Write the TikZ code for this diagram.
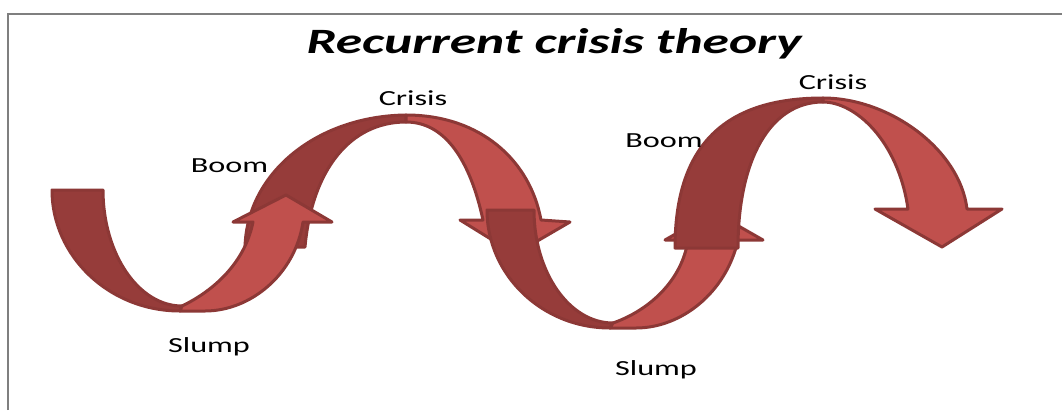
\documentclass[tikz,border=0pt]{standalone}
\usepackage{fontspec}
\setmainfont{Carlito}
\usepackage{graphicx}
\definecolor{bandlight}{HTML}{C0504D}
\definecolor{banddark}{HTML}{963C3A}
\definecolor{bandedge}{HTML}{8C3836}
\definecolor{framegray}{HTML}{7F7F7F}
\newcommand{\widetext}[1]{\scalebox{1.5}[1]{#1}}
\begin{document}
\begin{tikzpicture}[x=1pt,y=-1pt,
  darkband/.style={fill=banddark, draw=bandedge, line width=3pt, line join=round},
  lightband/.style={fill=bandlight, draw=bandedge, line width=3pt, line join=round},
  lbl/.style={anchor=base, inner sep=0pt, font=\fontsize{21.5}{24}\selectfont},
  frameline/.style={draw=framegray, line width=2.5pt}]
\useasboundingbox (0,0) rectangle (1062,410);
\draw[frameline] (8,410) -- (8,14) -- (1062,14);

% Arrow B (first arch)
\path[darkband] (245,247) .. controls (247,172) and (318,116) .. (406,115) -- (406,122) .. controls (350,122) and (312,170) .. (305,247) -- cycle;
\path[lightband] (406,115) .. controls (480,115) and (530,160) .. (541,220) -- (570,222) -- (515,254) -- (460,220) -- (483,220) .. controls (470,160) and (445,122) .. (406,122) -- cycle;

% Arrow A (first U)
\path[darkband] (52,190) -- (103,190) .. controls (103,253) and (138,306) .. (182,306) -- (180,311) .. controls (109,311) and (52,256) .. (52,190) -- cycle;
\path[lightband] (182,306) .. controls (215,290) and (245,262) .. (253,222) -- (233,222) -- (286,195) -- (332,222) -- (303,222) .. controls (295,275) and (250,311) .. (205,311) -- (180,311) -- cycle;

% Arrow C (second U)
\path[darkband] (487,210) -- (534,210) .. controls (534,272) and (569,323) .. (613,323) -- (610,328) .. controls (542,328) and (487,275) .. (487,210) -- cycle;
\path[lightband] (613,323) .. controls (650,310) and (682,280) .. (688,240) -- (665,240) -- (714,212) -- (763,240) -- (738,240) .. controls (726,293) and (681,328) .. (636,328) -- (610,328) -- cycle;

% Arrow D (second arch)
\path[darkband] (675,248) .. controls (675,150) and (720,98) .. (823,98) -- (823,102) .. controls (770,102) and (738,160) .. (738,248) -- cycle;
\path[lightband] (823,98) .. controls (890,98) and (960,150) .. (967,209) -- (1002,209) -- (942,247) -- (875,209) -- (908,209) .. controls (898,140) and (855,102) .. (823,102) -- cycle;

% Labels
\node[lbl] (title) at (554,53) {\resizebox{495pt}{25pt}{\bfseries\itshape Recurrent crisis theory}};
\node[lbl] (crisis1) at (413,105) {\widetext{Crisis}};
\node[lbl] (crisis2) at (833,89) {\widetext{Crisis}};
\node[lbl] (boom1) at (229.5,172) {\widetext{Boom}};
\node[lbl] (boom2) at (664,147) {\widetext{Boom}};
\node[lbl] (slump1) at (209,352) {\widetext{Slump}};
\node[lbl] (slump2) at (656,375) {\widetext{Slump}};
\end{tikzpicture}
\end{document}
